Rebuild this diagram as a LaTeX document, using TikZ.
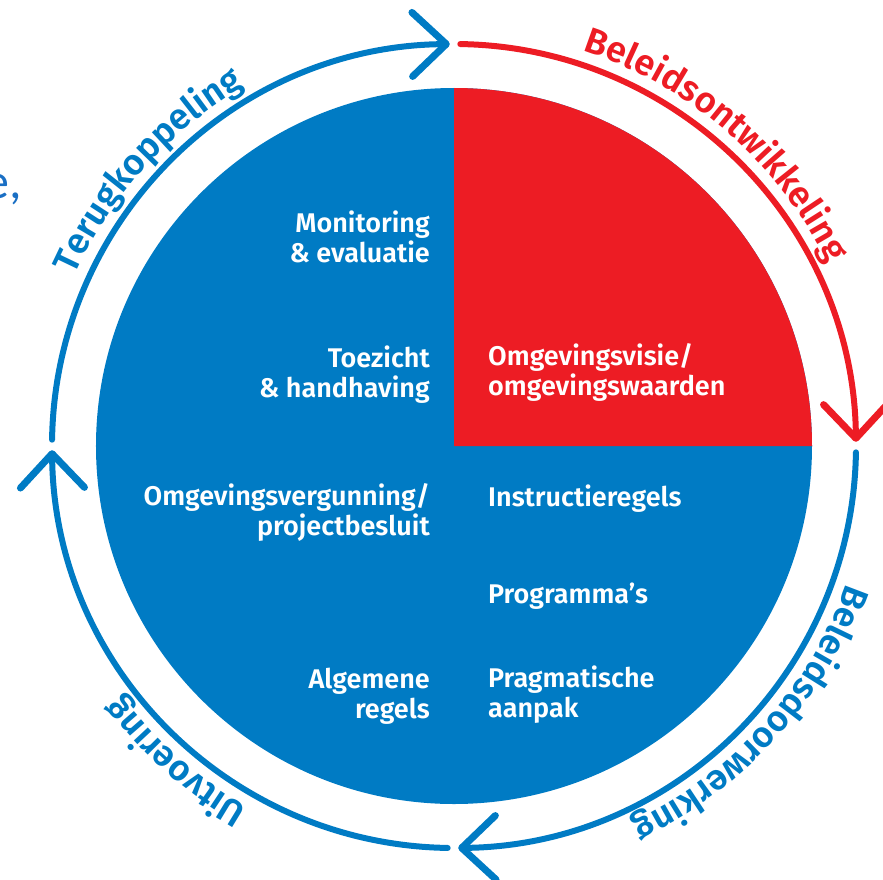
\documentclass[tikz,border=0pt]{standalone}
\usepackage{fontspec}
\setmainfont{Fira Sans}
\newfontfamily\semifont{Fira Sans SemiBold}
\newfontfamily\notefont{Carlito}
\usetikzlibrary{arrows.meta,decorations.text}
\definecolor{ringblue}{HTML}{007BC4}
\definecolor{ringred}{HTML}{ED1C24}
\definecolor{noteblue}{HTML}{1A6FC4}
\begin{document}
\begin{tikzpicture}[x=1pt,y=1pt,
  lbl/.style={inner sep=0pt, text=white, font=\semifont\fontsize{27}{30}\selectfont},
  lblL/.style={lbl, anchor=base east, align=right},
  lblR/.style={lbl, anchor=base west, align=left},
  ring/.style={line width=6pt, line cap=round, -{Straight Barb[length=34pt,width=64pt,line width=7pt,round]}}]
\useasboundingbox (-454,-433) rectangle (429,446);
% disk with red quarter
\fill[ringblue] (0,0) circle[radius=358];
\fill[ringred] (0,0) -- (358,0) arc[start angle=0, end angle=90, radius=358] -- cycle;
% cycle arrows
\foreach \a/\c in {180/ringblue, 90/ringred, 0/ringblue, -90/ringblue}
  \draw[ring, \c] ({\a-0.9}:402) arc[start angle=\a-0.9, end angle=\a-89.4, radius=402];
% ring labels
\path[decorate, decoration={text along path, text align=center, text color=ringblue,
  text={|\semifont\fontsize{36}{40}\selectfont|Terugkoppeling}}]
  (183:416) arc[start angle=183, end angle=93, radius=416];
\path[decorate, decoration={text along path, text align=center, text color=ringred,
  text={|\semifont\fontsize{36}{40}\selectfont|Beleidsontwikkeling}}]
  (94:416) arc[start angle=94, end angle=4, radius=416];
\path[decorate, decoration={text along path, text align=center, text color=ringblue,
  text={|\semifont\fontsize{36}{40}\selectfont|Beleidsdoorwerking}}]
  (3:416) arc[start angle=3, end angle=-87, radius=416];
\path[decorate, decoration={text along path, text align=center, text color=ringblue,
  text={|\semifont\fontsize{36}{40}\selectfont|Uitvoering}}]
  (-86.5:416) arc[start angle=-86.5, end angle=-176.5, radius=416];
% labels in the disk (anchor on the last line)
\node[lblL] (mon) at (-24,184) {Monitoring\\\& evaluatie};
\node[lblL] (toe) at (-24,49) {Toezicht\\\& handhaving};
\node[lblR] (vis) at (34,51) {Omgevingsvisie/\\omgevingswaarden};
\node[lblL] (verg) at (-24,-89) {Omgevingsvergunning/\\projectbesluit};
\node[lblR] (instr) at (34,-60) {Instructieregels};
\node[lblR] (prog) at (34,-157) {Programma’s};
\node[lblL] (alg) at (-24,-272) {Algemene\\regels};
\node[lblR] (prag) at (34,-271) {Pragmatische\\aanpak};
% cut-off text at the left edge
\node[font=\notefont\fontsize{50}{50}\selectfont, text=noteblue, anchor=base east, inner sep=0pt] (note) at (-432,248) {e,};
\end{tikzpicture}
\end{document}
